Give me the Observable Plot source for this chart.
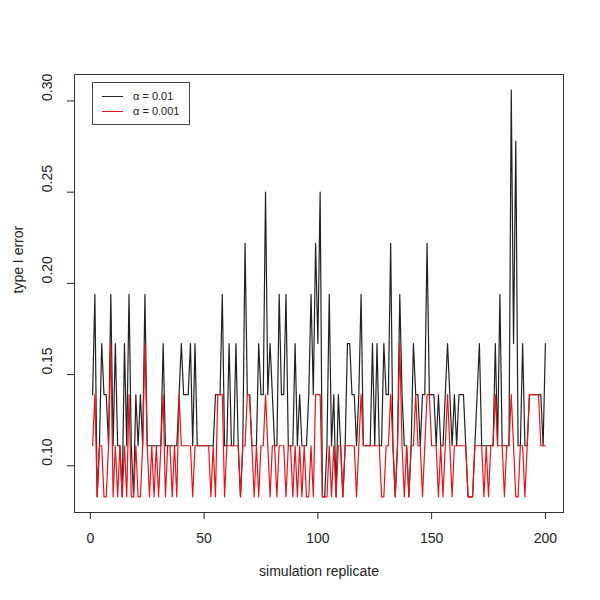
<!DOCTYPE html>
<html><head><meta charset="utf-8">
<script src="https://cdn.jsdelivr.net/npm/d3@7"></script>
<script src="https://cdn.jsdelivr.net/npm/@observablehq/plot@0.6"></script>
<style>
body{margin:0;background:#fff;font-family:"Liberation Sans",Arial,sans-serif;}
#wrap{position:relative;width:600px;height:600px;}
#legend{position:absolute;left:92px;top:82px;width:98px;height:43px;border:1px solid #444;background:#fff;box-sizing:border-box;font-size:11px;color:#222;}
.row{position:absolute;left:9px;display:flex;align-items:center;height:14px;}
.sw{width:21px;height:0;border-top:1px solid;margin-right:10px;}
</style></head><body><div id="wrap"></div>
<script>
const seriesNames = ["α = 0.01", "α = 0.001"];
const seriesColors = ["#222", "#e8141a"];
const xTitle = "simulation replicate";
const yTitle = "type I error";
const xTicks = [0, 50, 100, 150, 200];
const yTicks = [0.10, 0.15, 0.20, 0.25, 0.30];

const alpha01 = [
0.139,0.194,0.083,0.111,0.167,0.139,0.139,0.111,0.194,0.111,0.167,0.111,0.111,0.083,0.167,0.111,0.194,0.111,0.083,0.139,0.111,0.139,0.111,0.194,
0.111,0.111,0.111,0.111,0.111,0.111,0.111,0.167,0.111,0.111,0.111,0.111,0.111,0.111,0.139,0.167,0.139,0.139,0.139,0.167,0.111,0.167,0.111,0.111,0.111,0.111,
0.111,0.111,0.111,0.111,0.139,0.139,0.139,0.194,0.111,0.111,0.167,0.111,0.111,0.167,0.111,0.083,0.111,0.222,0.139,0.139,0.111,0.111,0.111,0.167,0.139,0.139,
0.25,0.139,0.167,0.139,0.111,0.111,0.194,0.139,0.139,0.194,0.111,0.111,0.111,0.167,0.111,0.139,0.111,0.111,0.111,0.139,0.194,0.139,0.222,0.167,0.25,
0.083,0.083,0.111,0.194,0.111,0.139,0.083,0.139,0.111,0.083,0.111,0.167,0.167,0.139,0.139,0.111,0.139,0.194,0.111,0.111,0.111,0.111,0.167,0.111,0.167,0.111,
0.111,0.167,0.139,0.139,0.222,0.111,0.083,0.111,0.194,0.139,0.111,0.111,0.083,0.111,0.167,0.139,0.139,0.111,0.139,0.139,0.222,0.139,0.139,0.139,0.111,
0.139,0.111,0.111,0.139,0.167,0.139,0.111,0.139,0.111,0.139,0.139,0.139,0.111,0.083,0.083,0.083,0.111,0.139,0.167,0.111,0.111,0.111,0.111,0.111,
0.111,0.167,0.111,0.194,0.111,0.111,0.111,0.111,0.306,0.167,0.278,0.111,0.111,0.167,0.111,0.111,0.139,0.139,0.139,0.139,0.139,0.139,0.111,0.167
];
const alpha001 = [
0.111,0.139,0.083,0.111,0.111,0.083,0.083,0.111,0.167,0.083,0.111,0.083,0.111,0.083,0.111,0.083,0.139,0.083,0.083,0.111,0.083,0.083,0.111,0.167,
0.111,0.083,0.111,0.083,0.111,0.083,0.111,0.139,0.083,0.111,0.111,0.083,0.111,0.083,0.139,0.111,0.111,0.111,0.111,0.111,0.083,0.111,0.111,0.111,0.111,0.111,
0.111,0.111,0.083,0.111,0.083,0.139,0.139,0.139,0.083,0.111,0.111,0.111,0.111,0.111,0.111,0.083,0.111,0.111,0.139,0.139,0.111,0.083,0.111,0.083,0.111,0.111,
0.139,0.111,0.083,0.111,0.111,0.083,0.111,0.111,0.111,0.083,0.111,0.111,0.083,0.111,0.083,0.111,0.083,0.111,0.083,0.083,0.111,0.083,0.139,0.139,0.139,
0.083,0.083,0.083,0.111,0.083,0.111,0.083,0.111,0.111,0.083,0.111,0.111,0.111,0.111,0.111,0.083,0.111,0.139,0.111,0.111,0.111,0.111,0.111,0.111,0.111,0.111,
0.083,0.083,0.111,0.111,0.139,0.111,0.083,0.111,0.167,0.111,0.083,0.111,0.083,0.111,0.111,0.139,0.111,0.111,0.083,0.111,0.139,0.139,0.111,0.111,0.111,
0.083,0.111,0.083,0.111,0.139,0.111,0.083,0.111,0.111,0.111,0.111,0.111,0.111,0.083,0.083,0.083,0.111,0.111,0.111,0.111,0.083,0.111,0.083,0.111,
0.111,0.139,0.111,0.111,0.111,0.083,0.111,0.111,0.139,0.111,0.083,0.083,0.111,0.111,0.083,0.111,0.139,0.139,0.139,0.139,0.139,0.111,0.111,0.111
];

const chart = Plot.plot({
  width: 600, height: 600,
  marginLeft: 74, marginRight: 37, marginTop: 74, marginBottom: 88,
  style: {fontFamily: "'Liberation Sans', Arial, sans-serif", fontSize: "14px", background: "white", color: "#222"},
  x: {domain: [-6.96, 207.96], label: null},
  y: {domain: [0.0744, 0.3145], label: null},
  marks: [
    Plot.frame({stroke: "#333"}),
    Plot.lineY(alpha01, {x: (d, i) => i + 1, y: d => d, stroke: seriesColors[0], strokeWidth: 1.2}),
    Plot.lineY(alpha001, {x: (d, i) => i + 1, y: d => d, stroke: seriesColors[1], strokeWidth: 1.2}),
    Plot.axisX({ticks: xTicks, tickSize: 7, tickPadding: 14, label: null, fontSize: 14}),
    Plot.axisY({ticks: yTicks, tickSize: 7, tickFormat: () => "", label: null}),
    Plot.text(yTicks, {y: d => d, frameAnchor: "left", dx: -27, rotate: -90, text: d => d.toFixed(2), fontSize: 14}),
    Plot.text([xTitle], {frameAnchor: "bottom", dy: 63, text: d => d, fontSize: 14}),
    Plot.text([yTitle], {frameAnchor: "left", dx: -56, rotate: -90, text: d => d, fontSize: 14})
  ]
});
const wrap = document.getElementById("wrap");
wrap.appendChild(chart);
const legend = document.createElement("div");
legend.id = "legend";
seriesNames.forEach((name, i) => {
  const row = document.createElement("div");
  row.className = "row";
  row.style.top = (6 + i * 15) + "px";
  const sw = document.createElement("span");
  sw.className = "sw";
  sw.style.borderColor = seriesColors[i];
  const t = document.createElement("span");
  t.textContent = name;
  row.appendChild(sw); row.appendChild(t);
  legend.appendChild(row);
});
wrap.appendChild(legend);
</script></body></html>
